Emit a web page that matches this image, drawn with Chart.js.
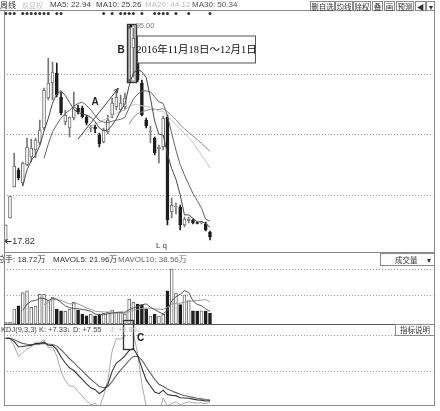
<!DOCTYPE html>
<html><head><meta charset="utf-8">
<script src="https://cdn.jsdelivr.net/npm/chart.js@4.4.1/dist/chart.umd.min.js"></script>
<style>
html,body{margin:0;padding:0;background:#fff;}
#wrap{position:relative;width:440px;height:411px;overflow:hidden;background:#fff;font-family:"Liberation Sans",Arial,"Noto Sans CJK SC",sans-serif;color:#333;}
canvas{position:absolute;left:0;}
.t{position:absolute;white-space:nowrap;font-size:8px;line-height:10px;}
.ln{position:absolute;background:#8a8a8a;}
.btn{position:absolute;border:1px solid #8a8a8a;box-sizing:border-box;font-size:7.5px;line-height:9px;text-align:center;white-space:nowrap;font-family:"Noto Sans CJK SC",sans-serif;color:#333;background:#fff;}
</style></head>
<body>
<div id="wrap">
  <canvas id="cMain" width="440" height="242" style="top:11px"></canvas>
  <canvas id="cVol" width="440" height="59" style="top:265px"></canvas>
  <canvas id="cKdj" width="440" height="93" style="top:318px"></canvas>

  <div class="ln" style="left:0;top:10px;width:310px;height:1px"></div>
  <div class="ln" style="left:434px;top:1px;width:1px;height:405px"></div>
  <div class="ln" style="left:4px;top:10px;width:1px;height:396px"></div>
  <div class="ln" style="left:4px;top:252px;width:431px;height:1px"></div>
  <div class="ln" style="left:4px;top:324px;width:431px;height:1px;background:#555"></div>
  <div class="ln" style="left:4px;top:405px;width:431px;height:1px"></div>

  <div class="t" style="left:0;top:0;font-family:'Noto Sans CJK SC';font-size:8px">周线</div>
  <div class="t" style="left:22px;top:0;color:#c4c4c4;font-family:'Noto Sans CJK SC';font-size:7px">前复权</div>
  <div class="t" style="left:50px;top:0;color:#444">MA5: 22.94</div>
  <div class="t" style="left:96px;top:0;color:#444">MA10: 25.26</div>
  <div class="t" style="left:145px;top:0;color:#bdbdbd">MA20: 44.12</div>
  <div class="t" style="left:192px;top:0;color:#555">MA30: 50.34</div>

  <div class="btn" style="left:310px;top:1px;width:25px;height:10px">删自选</div>
  <div class="btn" style="left:335px;top:1px;width:18px;height:10px">均线</div>
  <div class="btn" style="left:353px;top:1px;width:18px;height:10px">除权</div>
  <div class="btn" style="left:372px;top:1px;width:11px;height:10px">叠</div>
  <div class="btn" style="left:384px;top:1px;width:11px;height:10px">画</div>
  <div class="btn" style="left:396px;top:1px;width:18px;height:10px">预测</div>
  <div class="btn" style="left:415px;top:1px;width:11px;height:10px">◀</div>
  <div class="btn" style="left:426px;top:1px;width:9px;height:10px">▾</div>

  <div class="t" style="left:-3px;top:254px"><span style="font-family:'Noto Sans CJK SC'">总手</span>: 18.72<span style="font-family:'Noto Sans CJK SC'">万</span></div>
  <div class="t" style="left:53px;top:254px">MAVOL5: 21.96<span style="font-family:'Noto Sans CJK SC'">万</span></div>
  <div class="t" style="left:118px;top:254px;color:#666">MAVOL10: 38.56<span style="font-family:'Noto Sans CJK SC'">万</span></div>
  <div class="btn" style="left:380px;top:253px;width:55px;height:13px;line-height:11px;text-align:left;padding-left:14px">成交量<span style="position:absolute;right:3px">▾</span></div>

  <div class="t" style="left:1px;top:325px;color:#444;font-size:7.5px">KDJ(9,3,3) K: +7.33↓ D: +7.55</div>
  <div class="t" style="left:110px;top:325px;color:#bbb;font-size:7.5px">J: +6.89↓</div>
  <div class="btn" style="left:395px;top:324px;width:40px;height:12px;line-height:10px">指标说明</div>
</div>
<script>
// ---- data (weekly candles) ----
const opens  = [18.36,26.24,37.34,43.43,38.77,45.22,48.09,50.59,53.10,58.47,69.22,74.59,78.17,69.57,60.62,58.47,62.05,65.63,65.63,62.41,58.47,58.83,55.96,53.46,57.04,63.13,65.99,64.92,65.99,75.66,87.12,81.75,74.59,61.34,57.04,54.89,50.95,51.67,62.41,28.39,30.18,30.18,23.73,25.16,25.52,24.45,24.45,24.09,21.22];
const highs  = [23.73,34.12,49.52,44.14,46.29,54.89,54.53,54.89,61.34,72.80,83.54,82.11,81.75,71.37,64.92,62.41,71.37,66.71,66.35,63.13,59.55,59.55,56.68,58.47,63.13,69.22,72.08,70.29,71.01,95.00,94.28,82.82,75.66,62.05,59.19,55.25,52.38,62.77,63.13,33.40,31.61,30.89,26.60,26.60,25.88,24.80,24.80,24.80,21.58];
const lows   = [17.82,26.24,37.34,39.84,37.70,44.86,46.29,47.73,52.38,57.75,68.50,68.50,69.57,63.13,59.55,55.25,61.34,63.49,62.05,59.55,57.04,56.68,51.67,53.10,56.32,62.05,64.92,64.20,64.92,74.95,76.74,74.95,62.77,58.47,53.10,48.80,45.94,50.59,23.73,26.24,27.67,21.94,23.02,24.45,24.09,24.09,24.09,21.58,18.36];
const closes = [23.73,34.12,44.86,40.56,45.94,51.67,51.31,54.17,57.75,72.08,74.59,78.53,70.29,63.84,63.13,62.41,65.99,64.20,62.41,60.26,58.83,58.11,52.74,57.75,61.34,67.42,69.57,67.42,69.22,94.28,90.70,75.66,63.13,59.19,57.40,49.52,51.67,62.05,25.52,30.89,30.54,23.73,25.88,25.88,24.45,24.27,24.63,21.94,19.43];
const volumes = [3,3,26,32,55,58,29,32,52,52,41,47,26,23,22,26,38,24.5,17.5,14.5,17.5,14.5,17.5,18.7,20.4,24.5,20.4,20.4,17.5,43,38,35,34,26,14,17,14,17,58,96,54,34,51,40.8,23,22.5,23,22.6,18.72];
const eventWeeks = [1,2,3,5,6,7,8,9,10,11,13,14,24,26,28,29,30,31,33,36,37,38,39,41,44,49];
const SLOTS = 101;
const categories = Array.from({length: SLOTS}, (_, i) => i < closes.length ? 'W' + (i + 1) : '');
const B_WEEK = 30, C_FROM = 29;
const boxText = '2016年11月18日～12月1日';
const mainGrid = [34.47, 55.97, 77.47];
const volGrid = [49, 95.7];
const kdjGrid = [50, 105];

// ---- indicators derived from the candles ----
function movingAverage(arr, n) {
  return arr.map((_, i) => {
    if (i < n - 1) return null;
    let s = 0; for (let k = i - n + 1; k <= i; k++) s += arr[k];
    return s / n;
  });
}
function kdjCalc(h, l, c, n) {
  const K = [], D = [], J = []; let k, d;
  for (let i = 0; i < c.length; i++) {
    const s = Math.max(0, i - n + 1);
    const hh = Math.max(...h.slice(s, i + 1)), ll = Math.min(...l.slice(s, i + 1));
    const rsv = hh === ll ? 50 : (c[i] - ll) / (hh - ll) * 100;
    if (i === 0) { k = rsv; d = rsv; } else { k = (2 * k + rsv) / 3; d = (2 * d + k) / 3; }
    K.push(k); D.push(d); J.push(3 * k - 2 * d);
  }
  return {K, D, J};
}
const isUp = closes.map((c, i) => c >= opens[i]);
const kdj = kdjCalc(highs, lows, closes, 9);

const PAD = {left: 3.6, right: 6.6};
function xAxis() { return {type: 'category', labels: categories, offset: true, display: false}; }
function yAxis(min, max, grid) {
  return {min, max, display: true, position: 'left',
    ticks: {display: false}, border: {display: false, dash: [1, 2]},
    grid: {color: '#9a9a9a', drawTicks: false, lineWidth: 1},
    afterBuildTicks: s => { s.ticks = grid.map(v => ({value: v})); },
    afterFit: s => { s.width = 0; }};
}
const baseOpts = (padTop, padBottom) => ({
  responsive: false, animation: false, devicePixelRatio: 1, events: [],
  layout: {padding: {left: PAD.left, right: PAD.right, top: padTop, bottom: padBottom}},
  plugins: {legend: {display: false}, tooltip: {enabled: false}}
});
const lineDs = (label, data, color, order, w) => ({type: 'line', label, data, borderColor: color, borderWidth: w || 1, pointRadius: 0, tension: 0, order, fill: false});

// ---- main annotations ----
const mainAnnot = {
  id: 'mainAnnot',
  afterDatasetsDraw(c) {
    const {ctx} = c, x = c.scales.x, y = c.scales.y;
    ctx.save();
    ctx.fillStyle = '#333';
    eventWeeks.forEach(w => { ctx.beginPath(); ctx.arc(x.getPixelForValue(w - 1), c.chartArea.top + 2.5, 1.5, 0, Math.PI * 2); ctx.fill(); });
    const b = B_WEEK - 1;
    const l = Math.round(x.getPixelForValue(b) - 2.6) + 0.5, r = Math.round(x.getPixelForValue(b + 1) + 3.1) + 0.5;
    const t = Math.round(y.getPixelForValue(highs[b]) - 2.5) + 0.5, bt = Math.round(y.getPixelForValue(lows[b]) + 0.5) + 0.5;
    ctx.strokeStyle = '#333'; ctx.lineWidth = 1.4; ctx.strokeRect(l, t, r - l, bt - t);
    ctx.lineWidth = 0.6; ctx.strokeRect(l + 1.5, t + 1.5, r - l - 3, bt - t - 3);
    // high marker
    const hx = x.getPixelForValue(b) + 1.5, hy = y.getPixelForValue(highs[b]);
    ctx.fillStyle = '#111'; ctx.fillRect(hx - 1, hy - 1, 2.5, 2.5);
    ctx.fillStyle = '#777'; ctx.font = '7.5px "Liberation Sans"'; ctx.textBaseline = 'middle'; ctx.textAlign = 'left';
    ctx.fillText('95.00', hx + 5, hy);
    // B label
    ctx.fillStyle = '#222'; ctx.font = 'bold 10px "Liberation Sans"'; ctx.textAlign = 'center';
    ctx.fillText('B', l - 6.5, t + 26);
    // text box
    const tx = r + 1, ty = t + 11.5, tw = 118, th = 27;
    ctx.fillStyle = '#fff'; ctx.fillRect(tx, ty, tw, th);
    ctx.strokeStyle = '#555'; ctx.lineWidth = 1; ctx.strokeRect(tx, ty, tw, th);
    ctx.fillStyle = '#111'; ctx.font = '10.5px "Liberation Serif","Noto Sans CJK SC"';
    ctx.fillText(boxText, tx + tw / 2, ty + th / 2 + 0.5);
    // low marker
    const lx = x.getPixelForValue(0), ly = y.getPixelForValue(lows[0]);
    ctx.strokeStyle = '#333'; ctx.lineWidth = 1;
    ctx.beginPath(); ctx.moveTo(lx - 0.5, ly); ctx.lineTo(lx + 6, ly);
    ctx.moveTo(lx - 0.5, ly); ctx.lineTo(lx + 2, ly - 2); ctx.moveTo(lx - 0.5, ly); ctx.lineTo(lx + 2, ly + 2); ctx.stroke();
    ctx.fillStyle = '#333'; ctx.font = '9px "Liberation Sans"'; ctx.textAlign = 'left';
    ctx.fillText('17.82', lx + 6.5, ly);
    // arrow A
    const ax0 = x.getPixelForValue(17), ay0 = y.getPixelForValue(54.53);
    const ax1 = x.getPixelForValue(26.45), ay1 = y.getPixelForValue(72.69);
    ctx.strokeStyle = '#444'; ctx.lineWidth = 1;
    ctx.beginPath(); ctx.moveTo(ax0, ay0); ctx.lineTo(ax1, ay1); ctx.stroke();
    const ang = Math.atan2(ay1 - ay0, ax1 - ax0);
    ctx.beginPath();
    ctx.moveTo(ax1, ay1); ctx.lineTo(ax1 - 5 * Math.cos(ang - 0.45), ay1 - 5 * Math.sin(ang - 0.45));
    ctx.moveTo(ax1, ay1); ctx.lineTo(ax1 - 5 * Math.cos(ang + 0.45), ay1 - 5 * Math.sin(ang + 0.45));
    ctx.stroke();
    ctx.fillStyle = '#222'; ctx.font = 'bold 10px "Liberation Sans"'; ctx.textAlign = 'center';
    ctx.fillText('A', x.getPixelForValue(21), y.getPixelForValue(67.8));
    ctx.font = '8px "Liberation Sans"'; ctx.fillStyle = '#333';
    ctx.fillText('L q', x.getPixelForValue(36.6), c.chartArea.bottom - 7);
    ctx.restore();
  }
};

new Chart(document.getElementById('cMain'), {
  type: 'bar',
  data: {labels: categories, datasets: [
    {type: 'bar', label: 'wick', data: lows.map((v, i) => [v, highs[i]]), backgroundColor: isUp.map(u => u ? '#777' : '#1e1e1e'), borderWidth: 0, barThickness: 1, grouped: false, order: 3},
    {type: 'bar', label: 'body', data: opens.map((v, i) => [v, closes[i]]), backgroundColor: isUp.map(u => u ? '#fff' : '#1e1e1e'), borderColor: isUp.map(u => u ? '#6e6e6e' : '#1e1e1e'), borderWidth: 1, borderSkipped: false, barThickness: 3, minBarLength: 1, grouped: false, order: 2},
    lineDs('MA5', movingAverage(closes, 5), '#4a4a4a', 1),
    lineDs('MA10', movingAverage(closes, 10), '#666', 1),
    lineDs('MA20', movingAverage(closes, 20), '#c4c4c4', 1),
    lineDs('MA30', movingAverage(closes, 30), '#8c8c8c', 1)
  ]},
  options: Object.assign(baseOpts(0, 0), {scales: {x: xAxis(), y: yAxis(13.70, 100.38, mainGrid)}}),
  plugins: [mainAnnot]
});

new Chart(document.getElementById('cVol'), {
  type: 'bar',
  data: {labels: categories, datasets: [
    {type: 'bar', label: 'vol', data: volumes, backgroundColor: isUp.map(u => u ? '#fff' : '#1e1e1e'), borderColor: isUp.map(u => u ? '#6e6e6e' : '#1e1e1e'), borderWidth: 1, borderSkipped: false, barThickness: 3, minBarLength: 1, order: 2},
    lineDs('MAVOL5', movingAverage(volumes, 5), '#555', 1),
    lineDs('MAVOL10', movingAverage(volumes, 10), '#999', 1)
  ]},
  options: Object.assign(baseOpts(0, 0), {scales: {x: xAxis(), y: yAxis(0, 103.25, volGrid)}})
});

const kdjAnnot = {
  id: 'kdjAnnot',
  afterDatasetsDraw(c) {
    const {ctx} = c, x = c.scales.x, y = c.scales.y;
    ctx.save();
    const l = Math.round(x.getPixelForValue(C_FROM - 1) - 2.2) + 0.5, r = Math.round(x.getPixelForValue(C_FROM + 1)) + 0.5;
    const t = 2.5, b = Math.round(y.getPixelForValue(84)) + 0.5;
    ctx.strokeStyle = '#333'; ctx.lineWidth = 1.3; ctx.strokeRect(l, t, r - l, b - t);
    ctx.fillStyle = '#222'; ctx.font = 'bold 10px "Liberation Sans"'; ctx.textAlign = 'center'; ctx.textBaseline = 'middle';
    ctx.fillText('C', r + 7, 20.5);
    ctx.restore();
  }
};
new Chart(document.getElementById('cKdj'), {
  type: 'line',
  data: {labels: categories, datasets: [
    lineDs('K', kdj.K, '#333', 1, 1.1),
    lineDs('D', kdj.D, '#666', 2, 1.1),
    lineDs('J', kdj.J, '#aaa', 3, 1)
  ]},
  options: Object.assign(baseOpts(17, 6), {scales: {x: Object.assign(xAxis(), {offset: true}), y: yAxis(0, 105, kdjGrid)}}),
  plugins: [kdjAnnot]
});
</script>
</body></html>
